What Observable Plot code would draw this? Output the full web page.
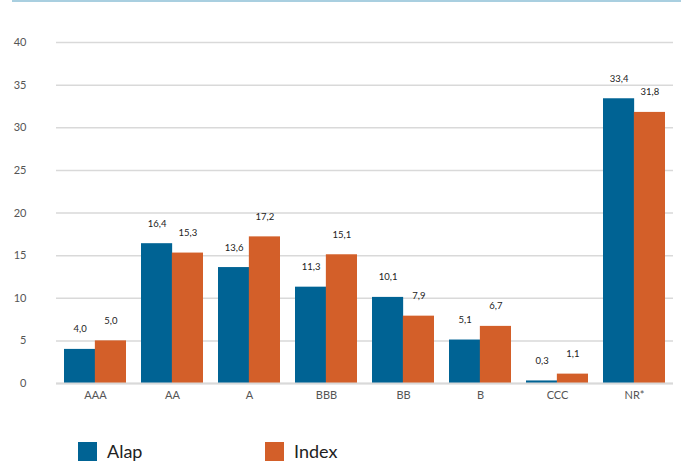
<!DOCTYPE html>
<html lang="fi">
<head>
<meta charset="UTF-8">
<style>
  body { margin: 0; background: #fff; font-family: Lato, "Open Sans", sans-serif; }
  #topline { margin-left: 12px; height: 0; border-top: 2px solid #a9cfe0; }
  #legend { margin-top: 25px; margin-left: 78px; display: flex; font-size: 18px; color: #222; }
  .item { display: flex; align-items: center; width: 187px; }
  .sw { width: 19px; height: 19px; margin-right: 10px; display: inline-block; }
</style>
</head>
<body>
<div id="topline"></div>
<div id="chart"></div>
<div id="legend"></div>
<script src="https://cdn.jsdelivr.net/npm/d3@7"></script>
<script src="https://cdn.jsdelivr.net/npm/@observablehq/plot@0.6"></script>
<script>
const categories = ["AAA", "AA", "A", "BBB", "BB", "B", "CCC", "NR*"];
const alap = [4.0, 16.4, 13.6, 11.3, 10.1, 5.1, 0.3, 33.4];
const index = [5.0, 15.3, 17.2, 15.1, 7.9, 6.7, 1.1, 31.8];
const seriesNames = ["Alap", "Index"];
const colors = ["#006394", "#d35f29"];
const yTicks = [0, 5, 10, 15, 20, 25, 30, 35, 40];

const alapRows = categories.map((c, i) => ({cat: c, value: alap[i]}));
const indexRows = categories.map((c, i) => ({cat: c, value: index[i]}));
const fmt = d => d.value.toFixed(1).replace(".", ",");

const width = 681, marginLeft = 56, marginRight = 8, pad = 0.2;
const bw = (width - marginLeft - marginRight) / categories.length * (1 - pad);
const half = bw / 2;

const svg = Plot.plot({
  width,
  height: 413,
  marginLeft,
  marginRight,
  marginTop: 40,
  marginBottom: 32,
  style: {fontFamily: "Lato, 'Open Sans', sans-serif", fontSize: "11px", color: "#555", overflow: "visible"},
  x: {domain: categories, paddingInner: pad, paddingOuter: pad / 2, label: null, tickSize: 0, tickPadding: 8},
  y: {domain: [0, 40], ticks: yTicks, label: null, tickSize: 0, tickPadding: 30},
  marks: [
    Plot.ruleY(yTicks, {stroke: "#d9d9d9", strokeWidth: 1.5}),
    Plot.barY(alapRows, {x: "cat", y: "value", fill: colors[0], insetRight: half}),
    Plot.barY(indexRows, {x: "cat", y: "value", fill: colors[1], insetLeft: half}),
    Plot.text(alapRows, {x: "cat", y: "value", text: fmt, dx: -half / 2, dy: -20, fill: "#222", fontSize: 9.5}),
    Plot.text(indexRows, {x: "cat", y: "value", text: fmt, dx: half / 2, dy: -20, fill: "#222", fontSize: 9.5}),
    Plot.ruleY([0], {stroke: "#d9d9d9", strokeWidth: 2})
  ]
});
document.getElementById("chart").append(svg);

const legend = document.getElementById("legend");
seriesNames.forEach((n, i) => {
  const it = document.createElement("div");
  it.className = "item";
  it.innerHTML = `<span class="sw" style="background:${colors[i]}"></span><span>${n}</span>`;
  legend.append(it);
});
</script>
</body>
</html>
